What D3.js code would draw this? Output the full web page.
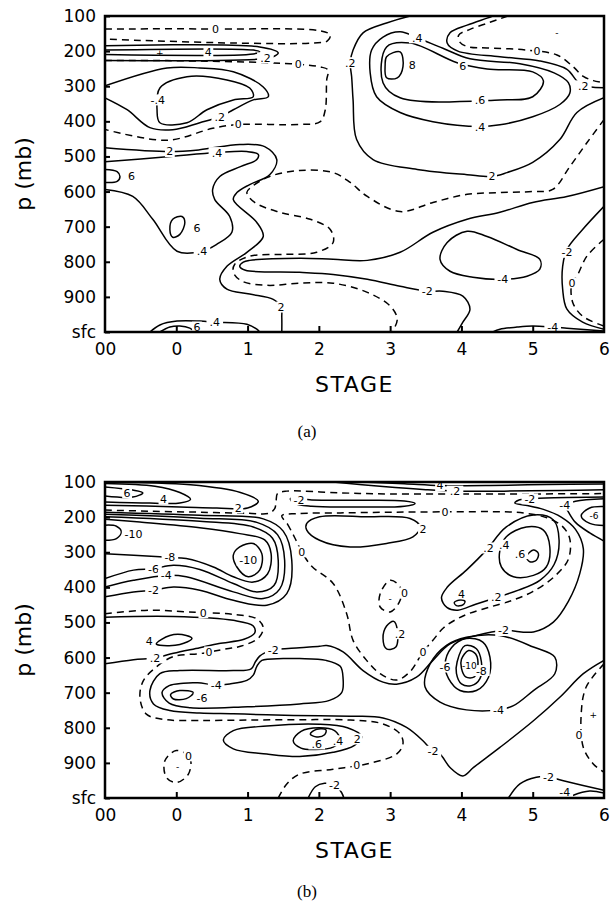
<!DOCTYPE html>
<html>
<head>
<meta charset="utf-8">
<script src="https://cdn.jsdelivr.net/npm/d3@7"></script>
<style>
  body { margin: 0; background: #fff; }
  text { font-family: "DejaVu Sans", sans-serif; fill: #000; }
</style>
</head>
<body>
<svg id="chart" width="612" height="902"></svg>
<script>
// ---- axis data ----
const stageTicks = [-1, 0, 1, 2, 3, 4, 5, 6];
const stageLabels = ["00", "0", "1", "2", "3", "4", "5", "6"];
const pressureTicks = [100, 200, 300, 400, 500, 600, 700, 800, 900, 1000];
const pressureLabels = ["100", "200", "300", "400", "500", "600", "700", "800", "900", "sfc"];

// ---- panel (a) contours, points are [stage, pressure mb] ----
const a_zeroTop = [[-1,137],[0.59,137],[2.01,142],[2.16,154],[2.12,171],[1.92,177],[0.8,177],[-1,166]];
const a_pos2Top = [[-1,185],[1.17,188],[1.43,205],[1.36,216],[1.22,222],[-1,227]];
const a_pos4Top = [[-1,197],[1.08,197],[1.17,202],[1.08,208],[-1,210]];
const a_zeroUpper = [[-1,227],[-0.13,227],[1.6,236],[2.02,245],[2.13,254],[2.11,282],[2.09,367],[2.02,401],[1.74,409],[0.87,409],[0.51,420],[-0.13,454],[-1,423]];
const a_neg2Left = [[-1,299],[-0.13,248],[0.33,248],[0.8,259],[1.22,302],[1.29,330],[1.08,339],[0.8,367],[0.61,387],[0.33,404],[-0.05,424],[-0.37,418],[-0.69,367],[-1,333]];
const a_neg4Left = [[-0.23,305],[0.15,273],[0.71,282],[1.03,305],[1.08,330],[0.8,339],[0.43,367],[0.15,404],[-0.23,404],[-0.27,367]];
const a_pos2Mid = [[-1,475],[-0.09,486],[0.33,481],[0.89,466],[1.24,472],[1.41,509],[1.31,552],[1.03,580],[0.85,603],[0.8,623],[1.13,688],[1.22,728],[0.99,773],[0.71,813],[0.61,850],[0.71,878],[1.03,892],[1.36,907],[1.47,929],[1.48,958],[1.48,1000]];
const a_pos4Mid = [[-1,515],[-0.13,501],[0.57,489],[0.99,486],[1.15,494],[1.13,509],[0.9,529],[0.61,557],[0.51,594],[0.54,623],[0.75,671],[0.78,716],[0.57,750],[0.36,770],[0.01,770],[-0.33,679],[-0.61,614],[-1,594]];
const a_pos6Edge = [[-1,537],[-0.83,543],[-0.79,557],[-0.83,571],[-1,574]];
const a_pos6Loop = [[-0.09,708],[-0.05,679],[0.08,671],[0.12,688],[0.05,722],[-0.05,730]];
const a_zeroBig = [[6,395],[5.76,461],[5.52,529],[5.28,594],[5.0,600],[4.54,603],[4.08,608],[3.6,631],[3.14,657],[2.68,614],[2.44,574],[2.2,546],[1.73,540],[1.31,557],[1.06,586],[0.99,603],[1.1,631],[1.45,659],[1.88,679],[2.16,708],[2.2,745],[1.97,773],[1.5,779],[1.03,784],[0.82,807],[0.8,830],[0.92,855],[1.27,867],[1.73,861],[2.2,861],[2.68,887],[3.0,926],[3.1,963],[3.03,1000]];
const a_neg2Tongue = [[6,586],[5.48,614],[5.0,631],[4.54,659],[4.08,679],[3.6,716],[3.14,773],[2.68,796],[2.2,793],[1.73,790],[1.03,796],[0.94,801],[0.89,813],[0.97,824],[1.73,830],[2.2,836],[2.68,850],[3.14,870],[3.52,884],[3.74,884],[4.02,898],[4.12,935],[4.02,972],[3.94,1000]];
const a_neg4Loop = [[3.7,793],[3.8,745],[4.08,713],[4.36,728],[4.78,765],[5.1,793],[5.1,821],[4.92,841],[4.58,850],[4.16,844],[3.84,827]];
const a_neg2Right = [[6,642],[5.7,708],[5.48,765],[5.42,813],[5.42,878],[5.48,935],[5.7,972],[6,992]];
const a_zeroRight = [[6,736],[5.76,784],[5.62,841],[5.55,860],[5.56,915],[5.7,955],[6,983]];
const a_neg4Sfc = [[4.44,1000],[4.54,992],[4.78,986],[5.0,983],[5.28,986],[5.48,989],[6,997]];
const a_pos4Sfc = [[-0.37,1000],[-0.23,980],[0.01,969],[0.33,969],[0.54,972],[0.99,978],[1.13,992],[1.17,1000]];
const a_pos6Sfc = [[-0.23,1000],[-0.09,986],[0.05,983],[0.19,989],[0.26,1000]];
const a_pos2Right = [[3.28,100],[2.95,120],[2.62,148],[2.48,197],[2.44,233],[2.46,273],[2.48,339],[2.53,452],[2.76,509],[3.38,537],[4.08,552],[4.43,557],[4.64,546],[5.0,517],[5.38,452],[5.62,375],[6,333]];
const a_pos4Right = [[2.9,160],[3.14,145],[3.38,162],[3.74,192],[4.12,222],[4.82,236],[5.3,262],[5.5,290],[5.52,320],[5.38,352],[5.0,387],[4.54,410],[4.26,415],[3.6,401],[3.14,375],[2.81,330],[2.72,262],[2.74,197]];
const a_pos6Right = [[2.95,188],[3.28,177],[3.94,233],[4.36,251],[5.0,259],[5.15,285],[5.0,330],[4.54,339],[3.14,333],[2.9,290]];
const a_pos8Loop = [[2.95,216],[3.14,202],[3.18,244],[3.1,276],[2.95,276],[2.93,239]];
const a_zeroTopRight = [[4.65,100],[4.4,118],[4.12,138],[3.96,155],[3.98,175],[4.1,188],[4.36,191],[4.92,197],[5.34,211],[5.57,245],[5.71,272],[5.85,284],[6,290]];
const a_pos2TopRight = [[4.44,100],[4.36,106],[4.08,126],[3.84,148],[3.8,177],[3.95,200],[4.54,216],[5.1,228],[5.48,252],[5.62,285],[5.71,299],[5.85,303],[6,304]];

const aContours = [
  {level: 0, pts: a_zeroTop}, {level: 0.2, pts: a_pos2Top}, {level: 0.4, pts: a_pos4Top},
  {level: 0, pts: a_zeroUpper}, {level: -0.2, pts: a_neg2Left}, {level: -0.4, pts: a_neg4Left, closed: true},
  {level: 0.2, pts: a_pos2Mid}, {level: 0.4, pts: a_pos4Mid}, {level: 0.6, pts: a_pos6Edge},
  {level: 0.6, pts: a_pos6Loop, closed: true}, {level: 0, pts: a_zeroBig}, {level: -0.2, pts: a_neg2Tongue},
  {level: -0.4, pts: a_neg4Loop, closed: true}, {level: -0.2, pts: a_neg2Right}, {level: 0, pts: a_zeroRight},
  {level: -0.4, pts: a_neg4Sfc}, {level: 0.4, pts: a_pos4Sfc}, {level: 0.6, pts: a_pos6Sfc},
  {level: 0.2, pts: a_pos2Right}, {level: 0.4, pts: a_pos4Right, closed: true}, {level: 0.6, pts: a_pos6Right, closed: true},
  {level: 0.8, pts: a_pos8Loop, closed: true}, {level: 0, pts: a_zeroTopRight}, {level: 0.2, pts: a_pos2TopRight}
];
const aLabels = [
  [0.55,138,"0"],[1.25,219,".2"],[0.45,202,"4"],[1.71,236,"0"],[0.87,409,"0"],[0.61,387,".2"],
  [-0.26,339,"-.4"],[-0.09,486,"2"],[0.57,489,".4"],[-0.63,557,"6"],[0.29,705,"6"],[0.36,770,".4"],
  [1.47,929,"2"],[3.52,884,"-2"],[4.58,850,"-4"],[5.48,773,"-2"],[5.55,860,"0"],[5.28,986,"-4"],
  [0.54,972,".4"],[0.29,986,"6"],[2.44,233,".2"],[4.43,557,"2"],[3.38,162,".4"],[4.02,242,"6"],
  [4.26,339,".6"],[3.31,239,"8"],[5.06,199,"0"],[5.71,299,".2"],[4.26,415,".4"]
];
const aMarks = [[-0.23,205,"+"],[5.34,148,"-"]];

// ---- panel (b) contours ----
const b_pos6Edge = [[-1,114],[-0.61,123],[-0.47,131],[-0.61,143],[-1,140]];
const b_pos4Edge = [[-1,104],[-0.3,112],[0.05,130],[0.2,149],[0.05,160],[-0.37,160],[-1,157]];
const b_pos2Edge = [[-1,100.5],[0.2,108],[0.9,130],[1.15,155],[1.0,174],[0.57,174],[0.05,171],[-1,166]];
const b_zeroUpper = [[-1,180],[-0.4,183],[0.33,186],[1.0,189],[1.3,189],[1.38,176],[1.4,155],[1.42,133],[1.55,126],[2.3,131],[3.0,134],[4.0,134],[5.0,134],[6,133]];
const b_neg2Top = [[1.6,147],[1.9,151],[2.5,152],[3.2,154],[3.35,161],[3.2,169],[2.5,171],[1.9,169],[1.65,160]];
const b_pos4TopR = [[2.6,100],[3.2,105],[3.7,110],[4.4,110],[5.2,107],[6,106]];
const b_pos2TopR = [[2.2,100],[2.9,113],[3.5,122],[3.91,126],[4.6,126],[5.4,124],[6,122]];
const b_neg10Edge = [[-1,223],[-0.84,226],[-0.77,242],[-0.84,261],[-1,266]];
const b_neg10Loop = [[0.89,285],[1.08,275],[1.2,304],[1.17,351],[1.01,370],[0.85,342],[0.8,308]];
const b_neg8 = [[-1,206],[-0.51,214],[0.33,230],[0.89,247],[1.24,265],[1.33,304],[1.28,362],[1.08,385],[0.8,370],[0.52,342],[0.14,318],[-0.09,315],[-0.23,313],[-1,304]];
const b_neg6 = [[-1,199],[0.33,212],[1.08,228],[1.35,260],[1.43,323],[1.37,395],[1.13,413],[0.8,389],[0.33,349],[-0.04,337],[-0.32,347],[-0.6,351],[-1,375]];
const b_neg4 = [[-1,192],[0.33,203],[1.13,215],[1.42,250],[1.52,323],[1.45,405],[1.22,432],[0.8,413],[0.14,370],[-0.14,366],[-0.6,380],[-1,399]];
const b_neg2 = [[-1,186],[0.33,195],[1.22,205],[1.5,240],[1.62,323],[1.55,418],[1.27,451],[0.8,437],[0.33,408],[-0.04,399],[-0.32,408],[-0.6,413],[-1,427]];
const b_zeroLeft = [[-1,475],[-0.37,465],[0.14,470],[0.38,472],[0.8,477],[1.13,490],[1.22,515],[1.15,545],[0.9,568],[0.71,575],[0.46,584],[0.33,589],[-0.04,597],[-0.28,627],[-0.46,665],[-0.51,713],[-0.42,761],[-0.14,777],[0.33,779],[1.0,778],[1.73,777],[2.44,778],[2.9,789],[3.14,818],[3.18,846],[3.09,875],[2.67,903],[2.2,918],[1.73,932],[1.55,960],[1.43,1000]];
const b_pos2Left = [[-1,485],[-0.04,483],[0.8,494],[1.08,510],[1.1,530],[0.95,548],[0.6,560],[0.33,572],[-0.04,588],[-0.3,601],[-0.6,606],[-1,618]];
const b_pos4Loop = [[-0.28,561],[-0.09,537],[0.14,537],[0.22,546],[0.05,563],[-0.23,565]];
const b_neg2C = [[6,608],[5.71,646],[5.38,713],[5.01,780],[4.54,856],[4.17,913],[4.02,937],[3.84,913],[3.7,875],[3.6,867],[3.46,837],[3.23,799],[2.9,772],[2.5,767],[2.01,766],[1.27,763],[0.8,760],[0.33,758],[-0.09,751],[-0.32,732],[-0.37,694],[-0.23,646],[0.05,637],[0.8,637],[1.05,632],[1.11,612],[1.17,596],[1.27,584],[1.36,578],[1.73,572],[2.01,568],[2.11,566],[2.34,584],[2.62,637],[2.9,670],[3.09,676],[3.37,656],[3.6,608],[3.84,561],[4.21,537],[4.59,523],[5.01,527],[5.29,499],[5.5,440],[5.66,361],[5.71,290],[5.6,235],[5.4,200],[5.15,178],[4.9,166],[4.75,160],[4.8,152],[4.96,148],[5.3,145],[6,143]];
const b_neg4C = [[0.56,678],[0.75,675],[0.99,665],[1.08,650],[1.13,625],[1.2,608],[1.5,603],[1.73,603],[2.1,608],[2.3,625],[2.34,660],[2.32,700],[2.15,722],[1.73,732],[1.0,740],[0.2,743],[-0.1,730],[-0.2,700],[-0.1,680],[0.1,673],[0.3,672]];
const b_neg6Loop = [[-0.08,705],[0.05,694],[0.24,700],[0.14,717],[-0.04,718]];
const b_zeroMid = [[1.48,196],[1.56,220],[1.66,258],[1.76,299],[1.9,340],[2.2,389],[2.39,475],[2.48,551],[2.67,608],[2.86,646],[3.09,664],[3.28,640],[3.46,584],[3.6,551],[3.75,515],[3.92,492],[4.1,475],[4.4,456],[4.7,438],[5.0,412],[5.3,370],[5.5,320],[5.52,262],[5.42,227],[5.2,202],[4.9,189],[4.6,185],[3.77,185],[3.0,186],[2.3,188],[1.7,190]];
const b_pos2Long = [[1.83,218],[2.01,199],[2.67,199],[3.28,204],[3.42,228],[3.32,256],[2.95,275],[2.44,285],[2.01,266],[1.83,237]];
const b_pos2Right = [[3.72,430],[3.8,400],[4.07,351],[4.35,294],[4.63,228],[5.01,194],[5.29,208],[5.37,266],[5.3,335],[5.1,380],[4.8,408],[4.49,429],[4.2,448],[3.95,465],[3.8,458]];
const b_pos4Right = [[4.54,294],[4.63,256],[4.91,228],[5.15,237],[5.24,285],[5.19,342],[5.01,366],[4.73,370],[4.56,342]];
const b_pos6Right = [[4.91,313],[5.01,294],[5.08,304],[5.05,323],[4.96,327]];
const b_pos4Small = [[3.9,443],[3.98,436],[4.05,440],[4.02,450],[3.93,452]];
const b_pos2Small = [[3.05,497],[2.95,510],[2.9,545],[2.95,575],[3.08,570],[3.1,520]];
const b_zeroSmall = [[2.86,418],[3.0,380],[3.14,399],[3.14,437],[3.0,470],[2.86,456]];
const b_zeroSmallL = [[0,865],[0.19,884],[0.17,932],[0,956],[-0.14,941],[-0.16,894]];
const b_neg4Loop = [[3.49,684],[3.56,618],[3.79,565],[4.07,542],[4.54,537],[5.01,570],[5.31,599],[5.31,646],[5.01,694],[4.73,737],[4.52,749],[4.07,749],[3.7,727]];
const b_neg6Loop2 = [[3.77,620],[3.86,572],[4.07,546],[4.3,556],[4.4,599],[4.38,656],[4.21,694],[3.98,694],[3.82,660]];
const b_neg8Loop = [[3.94,612],[4.05,566],[4.21,575],[4.28,612],[4.26,660],[4.14,680],[4.0,675],[3.93,645]];
const b_neg10Loop2 = [[4.0,605],[4.1,580],[4.2,590],[4.23,627],[4.18,655],[4.06,655],[4.0,630]];
const b_pos2Blob = [[0.66,835],[0.8,808],[1.27,795],[2.01,790],[2.4,800],[2.6,825],[2.5,850],[2.2,870],[1.73,882],[1.27,875],[0.8,860]];
const b_pos4Blob = [[1.64,837],[1.75,810],[2.0,800],[2.22,808],[2.3,835],[2.2,855],[1.95,862],[1.75,858]];
const b_pos6Blob = [[1.88,818],[1.97,804],[2.1,806],[2.08,820],[1.97,826]];
const b_zeroRight = [[6,618],[5.75,684],[5.68,761],[5.71,856],[5.85,903],[6,927]];
const b_neg2Sfc = [[4.66,1000],[4.82,960],[5.05,941],[5.22,940],[5.43,951],[6,978]];
const b_neg4Sfc = [[5.5,1000],[5.57,992],[5.8,980],[6,986]];
const b_neg2Sfc2 = [[1.85,1000],[1.95,968],[2.08,958],[2.22,963],[2.32,985],[2.35,1000]];
const b_neg6Right = [[6,170],[5.8,174],[5.68,196],[5.8,218],[6,224]];
const b_neg4Right = [[6,148],[5.6,155],[5.45,166],[5.5,185],[5.6,215],[5.8,245],[6,268]];

const bContours = [
  {level: 0.6, pts: b_pos6Edge}, {level: 0.4, pts: b_pos4Edge}, {level: 0.2, pts: b_pos2Edge},
  {level: 0, pts: b_zeroUpper}, {level: -0.2, pts: b_neg2Top, closed: true},
  {level: 0.4, pts: b_pos4TopR}, {level: 0.2, pts: b_pos2TopR},
  {level: -1.0, pts: b_neg10Edge}, {level: -1.0, pts: b_neg10Loop, closed: true},
  {level: -0.8, pts: b_neg8}, {level: -0.6, pts: b_neg6}, {level: -0.4, pts: b_neg4}, {level: -0.2, pts: b_neg2},
  {level: 0, pts: b_zeroLeft}, {level: 0.2, pts: b_pos2Left}, {level: 0.4, pts: b_pos4Loop, closed: true},
  {level: -0.2, pts: b_neg2C}, {level: -0.4, pts: b_neg4C, closed: true}, {level: -0.6, pts: b_neg6Loop, closed: true},
  {level: 0, pts: b_zeroMid, closed: true}, {level: 0.2, pts: b_pos2Long, closed: true},
  {level: 0.2, pts: b_pos2Right, closed: true}, {level: 0.4, pts: b_pos4Right, closed: true},
  {level: 0.6, pts: b_pos6Right, closed: true}, {level: 0.4, pts: b_pos4Small, closed: true},
  {level: 0.2, pts: b_pos2Small, closed: true}, {level: 0, pts: b_zeroSmall, closed: true},
  {level: 0, pts: b_zeroSmallL, closed: true}, {level: -0.4, pts: b_neg4Loop, closed: true},
  {level: -0.6, pts: b_neg6Loop2, closed: true}, {level: -0.8, pts: b_neg8Loop, closed: true},
  {level: -1.0, pts: b_neg10Loop2, closed: true}, {level: 0.2, pts: b_pos2Blob, closed: true},
  {level: 0.4, pts: b_pos4Blob, closed: true}, {level: 0.6, pts: b_pos6Blob, closed: true},
  {level: 0, pts: b_zeroRight}, {level: -0.2, pts: b_neg2Sfc}, {level: -0.4, pts: b_neg4Sfc},
  {level: -0.2, pts: b_neg2Sfc2}, {level: -0.6, pts: b_neg6Right}, {level: -0.4, pts: b_neg4Right}
];
const bLabels = [
  [-0.69,131,"6"],[-0.18,149,"4"],[0.87,174,"2"],[3.77,185,"0"],[1.72,150,"-2"],[-0.6,248,"-10"],
  [1.01,323,"-10"],[-0.09,315,"-8"],[-0.32,347,"-6"],[-0.14,366,"-4"],[-0.32,408,"-2"],[0.38,472,"0"],
  [-0.38,553,"4"],[-0.3,601,".2"],[0.46,584,"0"],[1.36,578,"-2"],[0.56,678,"-4"],[0.36,715,"-6"],
  [1.76,299,"0"],[3.46,235,"2"],[4.38,288,".2"],[4.6,280,".4"],[4.82,304,".6"],[4.0,418,"4"],
  [4.49,429,".2"],[3.2,416,"0"],[3.14,532,".2"],[3.46,584,"0"],[4.59,523,"-2"],[3.77,627,"-6"],
  [4.28,637,"-8"],[4.52,749,"-4"],[3.6,867,"-2"],[2.53,905,"0"],[1.97,846,".6"],
  [2.27,837,".4"],[2.54,832,"2"],[0.17,880,"0"],[5.65,822,"0"],[5.22,940,"-2"],[5.45,984,"-4"],
  [2.22,963,"-2"],[4.96,148,"-2"],[5.45,166,"-4"],[3.7,110,"4"],[3.91,126,".2"]
];
const bMarks = [[5.85,763,"+"],[3.0,432,"-"],[0.02,912,"-"],[4.11,622,"-10"],[5.86,196,"-6"]];

// ---- drawing ----
const svg = d3.select("#chart");
const panels = [
  {top: 16, contours: aContours, labels: aLabels, marks: aMarks, tag: "(a)", tagY: 437},
  {top: 482, contours: bContours, labels: bLabels, marks: bMarks, tag: "(b)", tagY: 897}
];
const left = 105, right = 604, plotH = 316;

panels.forEach((panel, i) => {
  const g = svg.append("g");
  const x = d3.scaleLinear().domain([-1, 6]).range([left, right]);
  const y = d3.scaleLinear().domain([100, 1000]).range([panel.top, panel.top + plotH]);

  const clipId = "clip" + i;
  g.append("clipPath").attr("id", clipId)
    .append("rect").attr("x", left).attr("y", panel.top).attr("width", right - left).attr("height", plotH);

  const body = g.append("g").attr("clip-path", `url(#${clipId})`);
  const line = d3.line().x(d => x(d[0])).y(d => y(d[1])).curve(d3.curveCatmullRom.alpha(0.5));
  const loop = d3.line().x(d => x(d[0])).y(d => y(d[1])).curve(d3.curveCatmullRomClosed.alpha(0.5));

  body.selectAll("path.contour")
    .data(panel.contours)
    .join("path")
      .attr("class", "contour")
      .attr("d", d => d.closed ? loop(d.pts) : line(d.pts))
      .attr("fill", "none")
      .attr("stroke", "#000")
      .attr("stroke-width", 1.5)
      .attr("stroke-dasharray", d => d.level === 0 ? "7,5" : null);

  // contour labels sit in a white gap on the line
  const lab = body.selectAll("g.lab")
    .data(panel.labels)
    .join("g")
      .attr("class", "lab")
      .attr("transform", d => `translate(${x(d[0])},${y(d[1])})`);
  lab.append("rect")
    .attr("x", d => -d[2].length * 3.4 - 1.5).attr("y", -5.5)
    .attr("width", d => d[2].length * 6.8 + 3).attr("height", 11)
    .attr("fill", "#fff");
  lab.append("text")
    .attr("text-anchor", "middle").attr("dy", "0.36em")
    .style("font-size", "11px")
    .text(d => d[2]);

  // signs and labels that sit inside small loops (no gap)
  body.selectAll("text.mark")
    .data(panel.marks)
    .join("text")
      .attr("class", "mark")
      .attr("x", d => x(d[0])).attr("y", d => y(d[1]))
      .attr("text-anchor", "middle").attr("dy", "0.36em")
      .style("font-size", "9px")
      .text(d => d[2]);

  // frame
  g.append("rect")
    .attr("x", left).attr("y", panel.top).attr("width", right - left).attr("height", plotH)
    .attr("fill", "none").attr("stroke", "#000").attr("stroke-width", 2.5);

  // axes
  const yAxis = d3.axisLeft(y).tickValues(pressureTicks)
    .tickFormat((d, k) => pressureLabels[k]).tickSize(-5).tickPadding(9);
  const yG = g.append("g").attr("transform", `translate(${left},0)`).call(yAxis);
  yG.select(".domain").remove();
  yG.selectAll(".tick line").attr("stroke-width", 2);
  yG.selectAll(".tick text").style("font-size", "17px").attr("fill", "#000");

  const xAxis = d3.axisBottom(x).tickValues(stageTicks)
    .tickFormat((d, k) => stageLabels[k]).tickSize(-6).tickPadding(11);
  const xG = g.append("g").attr("transform", `translate(0,${panel.top + plotH})`).call(xAxis);
  xG.select(".domain").remove();
  xG.selectAll(".tick line").attr("stroke-width", 2).filter(d => d === -1 || d === 6).remove();
  xG.selectAll(".tick text").style("font-size", "17px").attr("fill", "#000");

  g.append("text")
    .attr("x", (left + right) / 2).attr("y", panel.top + plotH + 60)
    .attr("text-anchor", "middle").style("font-size", "22px").style("letter-spacing", "1.5px")
    .text("STAGE");

  g.append("text")
    .attr("transform", `translate(31,${panel.top + plotH / 2}) rotate(-90)`)
    .attr("text-anchor", "middle").style("font-size", "22px")
    .text("p (mb)");

  g.append("text")
    .attr("x", 307).attr("y", panel.tagY)
    .attr("text-anchor", "middle")
    .style("font-family", "'Liberation Serif', serif").style("font-size", "17px")
    .text(panel.tag);
});
</script>
</body>
</html>
